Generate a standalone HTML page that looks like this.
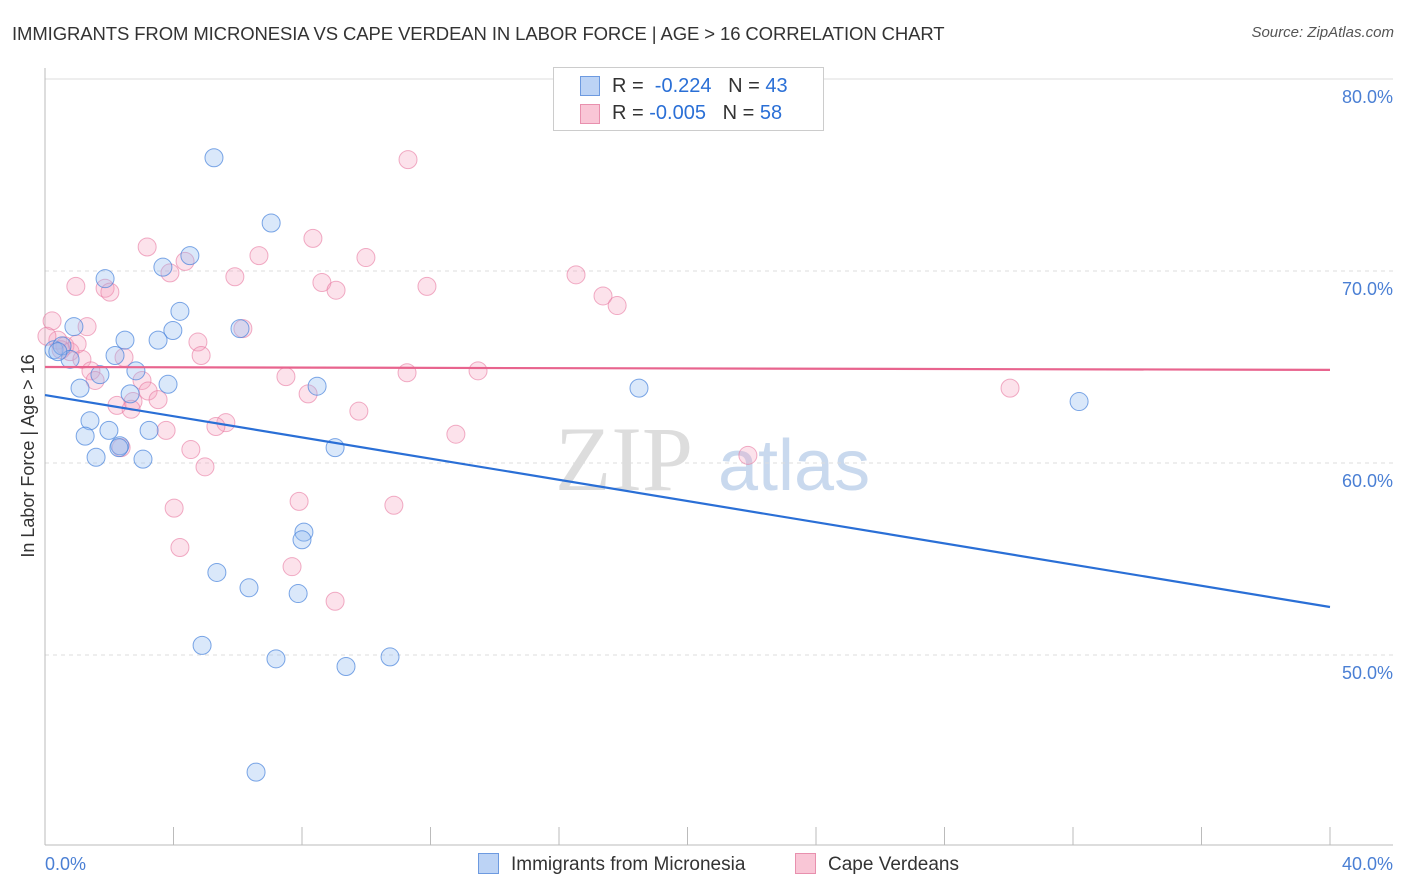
<!DOCTYPE html>
<html><head><meta charset="utf-8"><style>
body{margin:0;background:#fff;font-family:"Liberation Sans",sans-serif}
#wrap{position:relative;width:1406px;height:892px}
.t{position:absolute;white-space:nowrap}
</style></head><body><div id="wrap">
<div class="t" style="left:12px;top:23px;font-size:18.5px;letter-spacing:-0.1px;color:#333">IMMIGRANTS FROM MICRONESIA VS CAPE VERDEAN IN LABOR FORCE | AGE &gt; 16 CORRELATION CHART</div>
<div class="t" style="right:12px;top:24px;font-size:15px;color:#555;font-style:italic">Source: ZipAtlas.com</div>
<svg id="svg" width="1406" height="892" style="position:absolute;left:0;top:0"></svg>
</div>
<script>
const xTicks=[0,40];
const yTicks=[50,60,70,80];
const blueX=[5.26,7.04,4.51,3.67,1.87,4.20,0.90,3.98,6.07,2.49,3.52,0.28,0.53,2.18,0.78,2.83,1.71,1.09,3.83,2.65,8.47,1.40,3.24,1.99,1.25,2.33,1.59,3.05,9.03,18.49,32.19,8.06,8.0,5.35,6.35,7.88,4.89,7.19,9.37,10.74,6.57,0.4,2.3];
const blueY=[75.9,72.5,70.8,70.2,69.6,67.9,67.1,66.9,67.0,66.4,66.4,65.9,66.1,65.6,65.4,64.8,64.6,63.9,64.1,63.6,64.0,62.2,61.7,61.7,61.4,60.9,60.3,60.2,60.8,63.9,63.2,56.4,56.0,54.3,53.5,53.2,50.5,49.8,49.4,49.9,43.9,65.8,60.8];
const pinkX=[11.3,3.18,6.66,8.34,9.99,4.36,3.89,5.91,16.53,8.62,0.96,1.87,2.02,9.06,11.89,17.37,17.81,0.22,1.31,6.16,0.40,0.62,4.76,0.78,2.46,4.86,1.15,1.43,1.56,3.02,7.50,11.27,13.48,3.21,3.52,8.19,2.24,2.74,2.68,9.77,5.63,5.32,3.77,12.79,2.37,4.54,4.98,21.88,30.04,4.02,7.91,10.86,4.20,7.69,9.03,0.06,0.5,1.0];
const pinkY=[75.8,71.25,70.8,71.7,70.7,70.5,69.9,69.7,69.8,69.4,69.2,69.1,68.9,69.0,69.2,68.7,68.2,67.4,67.1,67.0,66.4,66.1,66.3,65.8,65.5,65.6,65.4,64.8,64.3,64.3,64.5,64.7,64.8,63.75,63.3,63.6,63.0,63.2,62.8,62.7,62.1,61.9,61.7,61.5,60.8,60.7,59.8,60.4,63.9,57.65,58.0,57.8,55.6,54.6,52.8,66.6,65.9,66.2];
const blueTrend=[63.54,52.5];
const pinkTrend=[65.0,64.85];
const X0=45,X1=1330,xs=v=>X0+(v-0)/(40-0)*(X1-X0);
const ys=v=>79+(80-v)*19.2;
const S=document.getElementById('svg'),NS='http://www.w3.org/2000/svg';
function mk(tag,at,parent){const e=document.createElementNS(NS,tag);for(const k in at)e.setAttribute(k,at[k]);(parent||S).appendChild(e);return e;}
let wm=mk('text',{x:555,y:490,'font-size':92,fill:'#ddd','font-family':'Liberation Serif, serif'});wm.textContent='ZIP';


let wm2=mk('text',{x:718,y:490,'font-size':72,fill:'#c9d9ee','font-family':'Liberation Sans, sans-serif'});wm2.textContent='atlas';


yTicks.forEach(v=>{
 const g=mk('line',{x1:45,x2:1393,y1:ys(v),y2:ys(v),stroke:'#ddd','stroke-dasharray':v==80?'':'4,4'});
 
 
 const t=mk('text',{x:1393,y:ys(v)+24,'font-size':18,fill:'#4a7fd4','text-anchor':'end'});t.textContent=v.toFixed(1)+'%';
 
 
});
mk('line',{x1:45,x2:45,y1:68,y2:845,stroke:'#bbb'});
mk('line',{x1:45,x2:1393,y1:845,y2:845,stroke:'#bbb'});
for(let i=0;i<=10;i++){const x=xs(i*4);const tk=mk('line',{x1:x,x2:x,y1:827,y2:845,stroke:'#bbb'});
 
 }
xTicks.forEach((v,i)=>{const t=mk('text',{x:i==0?45:1393,y:870,'font-size':18,fill:'#4a7fd4','text-anchor':i==0?'start':'end'});t.textContent=v.toFixed(1)+'%';
 
 });
const yl=mk('text',{x:0,y:0,'font-size':18,fill:'#333','text-anchor':'middle',transform:'translate(34,456) rotate(-90)'});yl.textContent='In Labor Force | Age > 16';


pinkX.forEach((x,i)=>{const c=mk('circle',{cx:xs(x),cy:ys(pinkY[i]),r:9,fill:'rgba(244,160,190,0.3)',stroke:'rgba(232,120,160,0.6)','stroke-width':1});
 
 });
blueX.forEach((x,i)=>{const c=mk('circle',{cx:xs(x),cy:ys(blueY[i]),r:9,fill:'rgba(150,190,240,0.35)',stroke:'rgba(70,130,220,0.7)','stroke-width':1});
 
 });
const bt=mk('line',{x1:xs(0),x2:xs(40),y1:ys(blueTrend[0]),y2:ys(blueTrend[1]),stroke:'#2a6fd6','stroke-width':2.2});


const pt=mk('line',{x1:xs(0),x2:xs(40),y1:ys(pinkTrend[0]),y2:ys(pinkTrend[1]),stroke:'#e8648e','stroke-width':2.2});


</script>
<div class="t" style="left:553px;top:67px;width:269px;height:62px;border:1px solid #ccc;background:#fff;font-size:20px;color:#333">
 <div style="position:absolute;left:26px;top:8px;width:18px;height:18px;background:#bcd3f5;border:1px solid #6d9ae0"></div>
 <div style="position:absolute;left:58px;top:7px">R = &nbsp;<span style="color:#2a6fd6">-0.224</span> &nbsp;&nbsp;N = <span style="color:#2a6fd6">43</span></div>
 <div style="position:absolute;left:26px;top:36px;width:18px;height:18px;background:#f9c6d6;border:1px solid #e890ae"></div>
 <div style="position:absolute;left:58px;top:34px">R = <span style="color:#2a6fd6">-0.005</span> &nbsp;&nbsp;N = <span style="color:#2a6fd6">58</span></div>
</div>
<div class="t" style="left:478px;top:853px;font-size:19px;color:#333"><span style="display:inline-block;width:19px;height:19px;background:#bcd3f5;border:1px solid #6d9ae0;vertical-align:-4px;margin-right:12px"></span>Immigrants from Micronesia</div>
<div class="t" style="left:795px;top:853px;font-size:19px;color:#333"><span style="display:inline-block;width:19px;height:19px;background:#f9c6d6;border:1px solid #e890ae;vertical-align:-4px;margin-right:12px"></span>Cape Verdeans</div>
</body></html>
